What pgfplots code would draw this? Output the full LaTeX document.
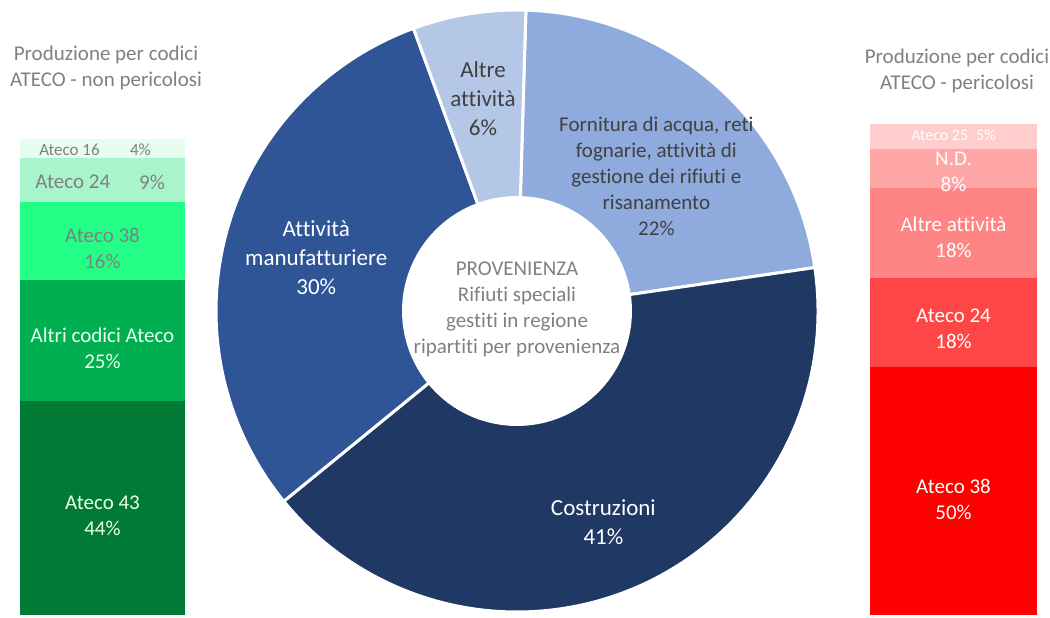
\documentclass[border=0pt]{standalone}
\usepackage{fontspec}
\setmainfont[Ligatures=NoCommon]{Carlito}
\usepackage{pgfplots}
\usepackage{pgfplotstable}
\pgfplotsset{compat=1.18}

% donut colours
\definecolor{cFornitura}{HTML}{8FAADC}
\definecolor{cCostruzioni}{HTML}{203864}
\definecolor{cManuf}{HTML}{2F5597}
\definecolor{cAltre}{HTML}{B4C7E7}
% non pericolosi
\definecolor{gA}{HTML}{E6FDEF}
\definecolor{gB}{HTML}{A9F5CB}
\definecolor{gC}{HTML}{23FF86}
\definecolor{gD}{HTML}{00B050}
\definecolor{gE}{HTML}{007A35}
% pericolosi
\definecolor{rA}{HTML}{FFCDCD}
\definecolor{rB}{HTML}{FFA6A6}
\definecolor{rC}{HTML}{FF8585}
\definecolor{rD}{HTML}{FF4646}
\definecolor{rE}{HTML}{FF0000}
\definecolor{titlegrey}{HTML}{808080}
\definecolor{labgrey}{HTML}{404040}

\pgfplotstableread{
value colour
22 cFornitura
41 cCostruzioni
30 cManuf
6  cAltre
}\donutdata

\newcommand{\lab}{\fontsize{10.5}{13}\selectfont}
\newcommand{\biglab}{\fontsize{11.5}{14.5}\selectfont}

\begin{document}
\begin{tikzpicture}
\path[use as bounding box] (0,0) rectangle (525pt,308.5pt);

% titles
\node[align=center, text=titlegrey, font=\lab] at (53pt,274.75pt)
  {Produzione per codici\\ATECO - non pericolosi};
\node[align=center, text=titlegrey, font=\lab] at (478.5pt,273.25pt)
  {Produzione per codici\\ATECO - pericolosi};

% left stacked bar
\begin{axis}[at={(10pt,1pt)}, anchor=south west,
  width=82.5pt, height=238pt, scale only axis, hide axis,
  ybar stacked, bar width=82.5pt,
  xmin=-0.5, xmax=0.5, ymin=0, ymax=98, clip=false]
\addplot[fill=gE, draw=none] coordinates {(0,44)};
\addplot[fill=gD, draw=none] coordinates {(0,25)};
\addplot[fill=gC, draw=none] coordinates {(0,16)};
\addplot[fill=gB, draw=none] coordinates {(0,9)};
\addplot[fill=gA, draw=none] coordinates {(0,4)};
\coordinate (La) at (axis cs:0,20.5);
\coordinate (Lb) at (axis cs:0,55);
\coordinate (Lc) at (axis cs:0,75.4);
\coordinate (Ld1) at (axis cs:-0.18,89.1);
\coordinate (Ld2) at (axis cs:0.30,89.1);
\coordinate (Le1) at (axis cs:-0.2,95.7);
\coordinate (Le2) at (axis cs:0.23,95.7);
\end{axis}
\node[align=center, text=white!92!green, font=\lab] at (La) {Ateco 43\\44\%};
\node[align=center, text=white!92!green, font=\lab] at (Lb) {Altri codici Ateco\\25\%};
\node[align=center, text=gray, font=\lab] at (Lc) {Ateco 38\\16\%};
\node[text=gray, font=\lab] at (Ld1) {Ateco 24};
\node[text=gray, font=\lab] at (Ld2) {9\%};
\node[text=gray, font=\fontsize{8.5}{10}\selectfont] at (Le1) {Ateco 16};
\node[text=gray, font=\fontsize{8.5}{10}\selectfont] at (Le2) {4\%};

% right stacked bar
\begin{axis}[at={(435pt,1pt)}, anchor=south west,
  width=83.5pt, height=245.5pt, scale only axis, hide axis,
  ybar stacked, bar width=83.5pt,
  xmin=-0.5, xmax=0.5, ymin=0, ymax=99, clip=false]
\addplot[fill=rE, draw=none] coordinates {(0,50)};
\addplot[fill=rD, draw=none] coordinates {(0,18)};
\addplot[fill=rC, draw=none] coordinates {(0,18)};
\addplot[fill=rB, draw=none] coordinates {(0,8)};
\addplot[fill=rA, draw=none] coordinates {(0,5)};
\coordinate (Ra) at (axis cs:0,23.3);
\coordinate (Rb) at (axis cs:0,57.7);
\coordinate (Rc) at (axis cs:0,76.1);
\coordinate (Rd) at (axis cs:0,89.4);
\coordinate (Re) at (axis cs:0,96.8);
\end{axis}
\node[align=center, text=white, font=\lab] at (Ra) {Ateco 38\\50\%};
\node[align=center, text=white, font=\lab] at (Rb) {Ateco 24\\18\%};
\node[align=center, text=white, font=\lab] at (Rc) {Altre attività\\18\%};
\node[align=center, text=white, font=\lab] at (Rd) {N.D.\\8\%};
\node[text=white, font=\fontsize{8}{10}\selectfont] at (Re) {Ateco 25\enspace 5\%};

% donut
\begin{axis}[at={(108pt,2.5pt)}, anchor=south west,
  width=301pt, height=301pt, scale only axis, hide axis,
  xmin=-1, xmax=1, ymin=-1, ymax=1, clip=false]
\pgfplotstablegetrowsof{\donutdata}
\pgfmathtruncatemacro{\lastrow}{\pgfplotsretval-1}
\xdef\angA{88.3}
\pgfplotsforeachungrouped \i in {0,...,\lastrow}{%
  \pgfplotstablegetelem{\i}{value}\of\donutdata
  \let\val\pgfplotsretval
  \pgfplotstablegetelem{\i}{colour}\of\donutdata
  \let\col\pgfplotsretval
  \pgfmathsetmacro{\angB}{\angA-\val*360/99}
  \pgfmathsetmacro{\xA}{cos(\angA)}
  \pgfmathsetmacro{\yA}{sin(\angA)}
  \pgfmathsetmacro{\xB}{0.377*cos(\angB)}
  \pgfmathsetmacro{\yB}{0.377*sin(\angB)}
  \edef\slice{\noexpand\fill[\col, draw=white, line width=1.5pt, line join=round]
    (axis cs:\xA,\yA) arc[start angle=\angA, end angle=\angB, radius=150.5pt]
    -- (axis cs:\xB,\yB) arc[start angle=\angB, end angle=\angA, radius=56.74pt] -- cycle;}
  \slice
  \xdef\angA{\angB}
}
\node[align=center, text=labgrey, font=\biglab] at (axis cs:-0.113,0.707) {Altre\\attività\\6\%};
\node[align=center, text=labgrey, font=\lab] at (axis cs:0.463,0.448)
  {Fornitura di acqua, reti\\fognarie, attività di\\gestione dei rifiuti e\\risanamento\\22\%};
\node[align=center, text=white, font=\biglab] at (axis cs:-0.667,0.178) {Attività\\manufatturiere\\30\%};
\node[align=center, text=white, font=\biglab] at (axis cs:0.287,-0.70) {Costruzioni\\41\%};
\node[align=center, text=titlegrey, font=\lab] at (axis cs:0,0.007)
  {PROVENIENZA\\Rifiuti speciali\\gestiti in regione\\ripartiti per provenienza};
\end{axis}
\end{tikzpicture}
\end{document}
